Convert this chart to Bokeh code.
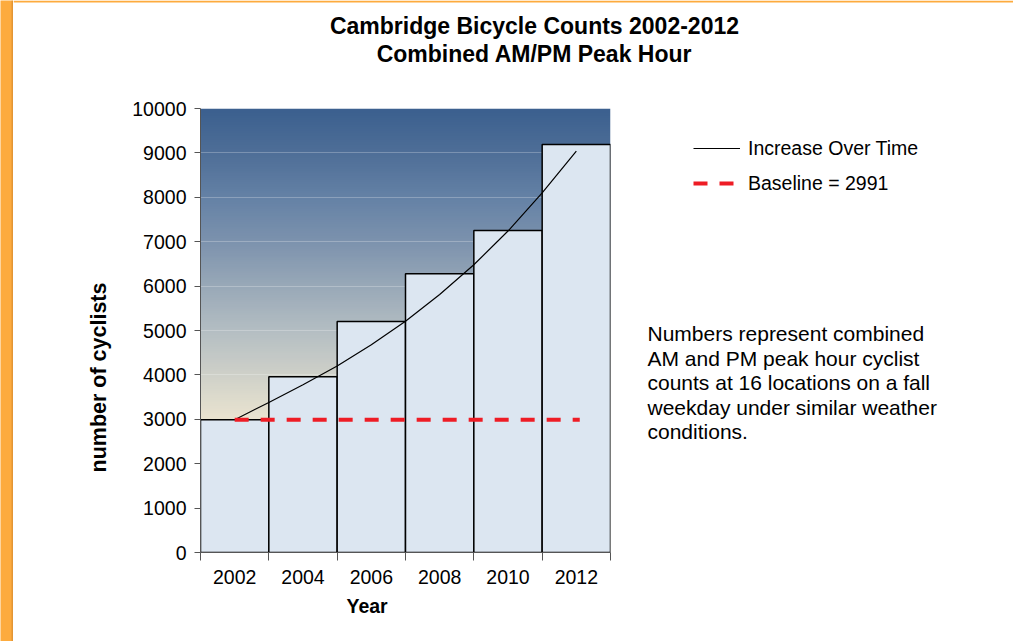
import numpy as np
from bokeh.plotting import figure
from bokeh.models import FixedTicker, Label, Legend, LegendItem, Range1d, Title
from bokeh.layouts import row, column
from bokeh.embed import file_html
from bokeh.resources import INLINE

# ---- data ----
years = [2002, 2004, 2006, 2008, 2010, 2012]
counts = [2991, 3960, 5200, 6280, 7250, 9190]
baseline = 2991
trend_years = [2002, 2003, 2004, 2005, 2006, 2007, 2008, 2009, 2010, 2011, 2012]
trend_vals = [2991, 3380, 3780, 4200, 4680, 5210, 5810, 6480, 7240, 8100, 9040]
y_ticks = [0, 1000, 2000, 3000, 4000, 5000, 6000, 7000, 8000, 9000, 10000]
note_lines = ["Numbers represent combined",
              "AM and PM peak hour cyclist",
              "counts at 16 locations on a fall",
              "weekday under similar weather",
              "conditions."]
title_lines = ["Cambridge Bicycle Counts 2002-2012", "Combined AM/PM Peak Hour"]
legend_labels = ["Increase Over Time", "Baseline = 2991"]

FONT = "Liberation Sans"
ORANGE = "#fdab3e"
TOP_H = 90


def blank(width, height, xr, yr, **kw):
    f = figure(width=width, height=height, output_backend="svg", toolbar_location=None,
               x_range=Range1d(*xr), y_range=Range1d(*yr),
               x_axis_type=None, y_axis_type=None, outline_line_color=None,
               background_fill_color="white", border_fill_color="white", **kw)
    f.grid.visible = False
    return f


# ---- orange page edge ----
edge = blank(13, 641, (0, 13), (0, 1), min_border=0)
edge.background_fill_color = ORANGE
edge.border_fill_color = ORANGE
edge.quad(left=11, right=13, bottom=0, top=1, fill_color="#e39534", line_color=None)

# ---- title strip (coordinates = page pixels) ----
tfig = blank(1000, TOP_H, (13, 1013), (TOP_H, 0), min_border=0)
tfig.quad(left=13, right=1013, bottom=0, top=2, fill_color=ORANGE, line_color=None)
for i, t in enumerate(title_lines):
    tfig.add_layout(Label(x=534, y=25 + i * 28, text=t, text_font=FONT,
                          text_font_style="bold", text_font_size="23px",
                          text_align="center", text_baseline="middle",
                          text_color="black"))

# ---- main chart ----
p = figure(width=627, height=641 - TOP_H, output_backend="svg", toolbar_location=None,
           x_range=Range1d(2001, 2013), y_range=Range1d(0, 10000),
           min_border_left=187, min_border_right=30,
           min_border_top=108 - TOP_H, min_border_bottom=89,
           background_fill_color="white", border_fill_color="white",
           outline_line_color=None)

# gradient background (style only)
stops_v = [0, 3000, 4000, 5000, 6000, 7000, 8000, 9000, 10000]
stops_c = [(243, 237, 220), (234, 228, 208), (207, 209, 201), (180, 190, 195),
           (153, 169, 184), (125, 147, 174), (101, 130, 166), (79, 111, 152), (60, 96, 143)]
N = 200
vv = np.linspace(0, 10000, N)
img = np.empty((N, 2), dtype=np.uint32)
view = img.view(dtype=np.uint8).reshape((N, 2, 4))
for k in range(3):
    ch = np.interp(vv, stops_v, [c[k] for c in stops_c]).astype(np.uint8)
    view[:, :, k] = ch[:, None]
view[:, :, 3] = 255
p.image_rgba(image=[img], x=2001, y=0, dw=12, dh=10000, level="image")

p.xgrid.visible = False
p.ygrid.ticker = FixedTicker(ticks=y_ticks)
p.ygrid.grid_line_color = "white"
p.ygrid.grid_line_alpha = 0.25
p.ygrid.level = "underlay"

p.quad(left=[y - 1 for y in years], right=[y + 1 for y in years],
       bottom=0, top=counts, fill_color="#dce6f1", line_color="black",
       line_width=1.5)

p.line(trend_years, trend_vals, line_color="black", line_width=1.2)
p.line([years[0], years[-1] + 0.1], [baseline, baseline],
       line_color="#ee1c25", line_width=4, line_dash="14 12")

p.xaxis.ticker = FixedTicker(ticks=years, minor_ticks=[2001, 2003, 2005, 2007, 2009, 2011, 2013])
p.xaxis.major_tick_out = 0
p.xaxis.major_tick_in = 0
p.xaxis.minor_tick_out = 8
p.xaxis.minor_tick_in = 0
p.xaxis.minor_tick_line_color = "#555555"
p.xaxis.axis_line_color = "#555555"
p.xaxis.major_label_text_font = FONT
p.xaxis.major_label_text_font_size = "19.5px"
p.xaxis.major_label_text_color = "black"
p.xaxis.major_label_standoff = 9

p.yaxis.ticker = FixedTicker(ticks=y_ticks, minor_ticks=[])
p.yaxis.major_tick_out = 6
p.yaxis.major_tick_in = 0
p.yaxis.major_tick_line_color = "#555555"
p.yaxis.axis_line_color = "#555555"
p.yaxis.major_label_text_font = FONT
p.yaxis.major_label_text_font_size = "19.5px"
p.yaxis.major_label_text_color = "black"
p.yaxis.major_label_standoff = 8

p.add_layout(Title(text="Year", align="left", offset=146, text_font=FONT,
                   text_font_style="bold", text_font_size="19.5px",
                   text_color="black", standoff=13), "below")
p.add_layout(Title(text="number of cyclists", align="left", offset=80, text_font=FONT,
                   text_font_style="bold", text_font_size="21.5px",
                   text_color="black", standoff=38), "left")

# ---- right side: legend and note (coordinates = page pixels) ----
side = blank(373, 641 - TOP_H, (640, 1013), (552, 108),
             min_border_left=0, min_border_right=0,
             min_border_top=108 - TOP_H, min_border_bottom=89)
# legend sample renderers kept outside the visible range
r1 = side.line(x=[0, 1], y=[0, 0], line_color="black", line_width=1.2)
r2 = side.line(x=[0, 1], y=[0, 0], line_color="#ee1c25", line_width=4, line_dash="14 12")
legend = Legend(items=[LegendItem(label=legend_labels[0], renderers=[r1]),
                       LegendItem(label=legend_labels[1], renderers=[r2])],
                location=(53, 357.5), padding=0, margin=0, spacing=12,
                glyph_width=47, glyph_height=20, label_standoff=8,
                label_text_font=FONT, label_text_font_size="19.5px",
                label_text_color="black",
                border_line_color=None, background_fill_alpha=0)
side.add_layout(legend)
for i, t in enumerate(note_lines):
    side.add_layout(Label(x=647, y=333 + i * 24.6, text=t, text_font=FONT,
                          text_font_size="21px", text_align="left",
                          text_baseline="middle", text_color="black"))

layout = row(edge, column(tfig, row(p, side)))
open("out.html", "w").write(file_html(layout, INLINE))
